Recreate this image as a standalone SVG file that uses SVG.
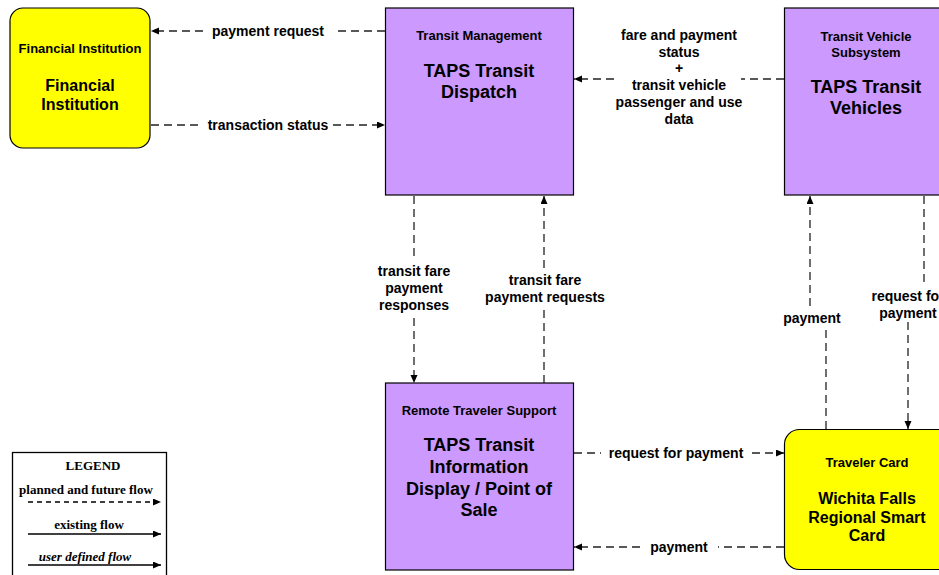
<svg xmlns="http://www.w3.org/2000/svg" width="939" height="575" viewBox="0 0 939 575">
<style>
.bg{fill:#fff}
.yel{fill:#FFFF00;stroke:#000;stroke-width:1.2}
.pur{fill:#CC99FF;stroke:#000;stroke-width:1.2}
.t{font-family:"Liberation Sans",Arial,sans-serif;font-weight:bold;text-anchor:middle;fill:#000}
.sm{font-size:13px}
.bg16{font-size:16px}
.bg18{font-size:18px}
.lb{font-family:"Liberation Sans",Arial,sans-serif;font-weight:bold;font-size:14px;text-anchor:middle;fill:#000}
.c{fill:none;stroke:#222;stroke-width:1.3;stroke-dasharray:8,5}
.lg{font-family:"Liberation Serif","Times New Roman",serif;font-weight:bold;font-size:13px;text-anchor:middle;fill:#000}
.ls{fill:none;stroke:#000;stroke-width:1.5}
</style>
<defs>
<marker id="ah" markerWidth="9" markerHeight="8" refX="8" refY="3.5" orient="auto" markerUnits="userSpaceOnUse">
<path d="M0,0 L8,3.5 L0,7 z" fill="#000"/>
</marker>
</defs>
<rect class="bg" x="0" y="0" width="939" height="575"/>

<g id="financial-institution">
<rect class="yel" x="10" y="8" width="140" height="140" rx="13"/>
<text class="t sm" x="80" y="53">Financial Institution</text>
<text class="t bg16" x="80" y="91">Financial</text>
<text class="t bg16" x="80" y="110">Institution</text>
</g>

<g id="transit-management">
<rect class="pur" x="385.5" y="8" width="188" height="187"/>
<text class="t sm" x="479" y="40">Transit Management</text>
<text class="t bg18" x="479" y="77">TAPS Transit</text>
<text class="t bg18" x="479" y="98">Dispatch</text>
</g>

<g id="transit-vehicle-subsystem">
<rect class="pur" x="784.5" y="8" width="164" height="187"/>
<text class="t sm" x="866" y="41">Transit Vehicle</text>
<text class="t sm" x="866" y="57">Subsystem</text>
<text class="t bg18" x="866" y="93">TAPS Transit</text>
<text class="t bg18" x="866" y="114">Vehicles</text>
</g>

<g id="remote-traveler-support">
<rect class="pur" x="385.5" y="383" width="188" height="187"/>
<text class="t sm" x="479" y="415">Remote Traveler Support</text>
<text class="t bg18" x="479" y="451">TAPS Transit</text>
<text class="t bg18" x="479" y="473">Information</text>
<text class="t bg18" x="479" y="495">Display / Point of</text>
<text class="t bg18" x="479" y="516">Sale</text>
</g>

<g id="traveler-card">
<rect class="yel" x="784.5" y="429.5" width="170" height="140" rx="15"/>
<text class="t sm" x="867" y="467">Traveler Card</text>
<text class="t bg16" x="867" y="504">Wichita Falls</text>
<text class="t bg16" x="867" y="523">Regional Smart</text>
<text class="t bg16" x="867" y="541">Card</text>
</g>

<g id="connectors">
<path class="c" d="M385,31 H334"/>
<path class="c" d="M203,31 H151" marker-end="url(#ah)"/>
<text class="lb" x="268" y="36">payment request</text>

<path class="c" d="M151,125 H203"/>
<path class="c" d="M333,125 H385" marker-end="url(#ah)"/>
<text class="lb" x="268" y="130">transaction status</text>

<path class="c" d="M784,79 H741"/>
<path class="c" d="M614,79 H574" marker-end="url(#ah)"/>
<text class="lb" x="679" y="40">fare and payment</text>
<text class="lb" x="679" y="57">status</text>
<text class="lb" x="679" y="73">+</text>
<text class="lb" x="679" y="90">transit vehicle</text>
<text class="lb" x="679" y="107">passenger and use</text>
<text class="lb" x="679" y="124">data</text>

<path class="c" d="M414,196 V258"/>
<path class="c" d="M414,318 V383" marker-end="url(#ah)"/>
<text class="lb" x="414" y="276">transit fare</text>
<text class="lb" x="414" y="293">payment</text>
<text class="lb" x="414" y="310">responses</text>

<path class="c" d="M544,383 V308"/>
<path class="c" d="M544,268 V196" marker-end="url(#ah)"/>
<text class="lb" x="545" y="285">transit fare</text>
<text class="lb" x="545" y="302">payment requests</text>

<path class="c" d="M826,429 V328"/>
<path class="c" d="M810,306 V196" marker-end="url(#ah)"/>
<text class="lb" x="812" y="323">payment</text>

<path class="c" d="M924,196 V283"/>
<path class="c" d="M908,322 V429" marker-end="url(#ah)"/>
<text class="lb" x="908" y="301">request for</text>
<text class="lb" x="908" y="318">payment</text>

<path class="c" d="M574,453 H601"/>
<path class="c" d="M752,453 H784" marker-end="url(#ah)"/>
<text class="lb" x="676" y="458">request for payment</text>

<path class="c" d="M784,547 H718"/>
<path class="c" d="M640,547 H574" marker-end="url(#ah)"/>
<text class="lb" x="679" y="552">payment</text>
</g>

<g id="legend">
<rect x="12.5" y="452.5" width="154" height="130" fill="#fff" stroke="#000" stroke-width="1.3"/>
<text class="lg" x="93" y="470">LEGEND</text>
<text class="lg" x="86" y="494">planned and future flow</text>
<path class="ls" d="M28,502 H161" stroke-dasharray="5,4" marker-end="url(#ah)"/>
<text class="lg" x="89" y="529">existing flow</text>
<path class="ls" d="M28,534 H161" marker-end="url(#ah)"/>
<text class="lg" x="85" y="561" font-style="italic">user defined flow</text>
<path class="ls" d="M28,565 H161" marker-end="url(#ah)"/>
</g>
</svg>
